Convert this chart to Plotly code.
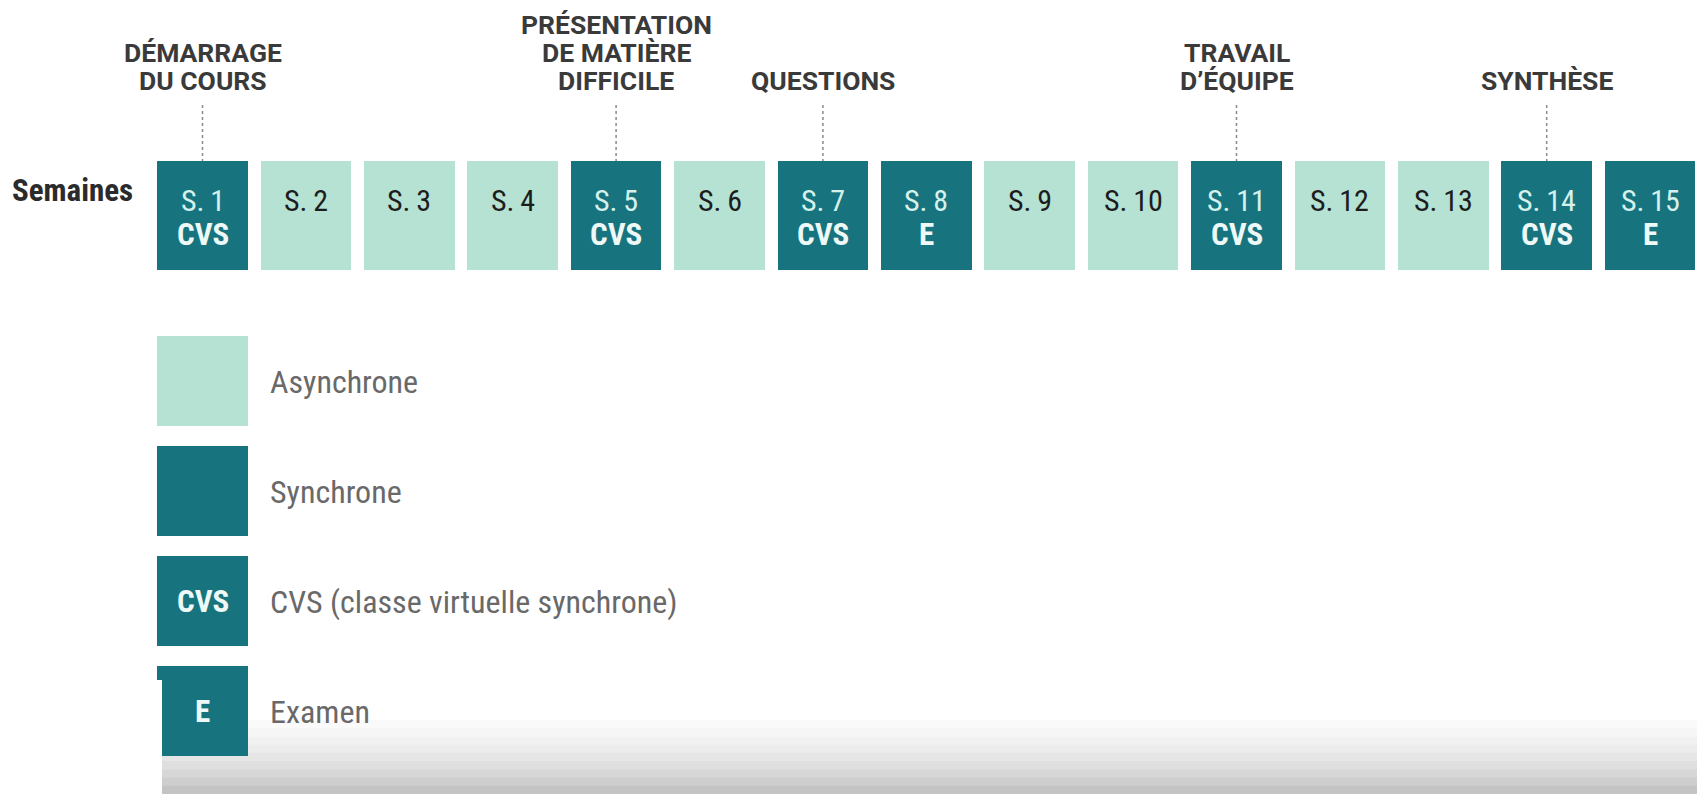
import plotly.graph_objects as go

# ---------------- data ----------------
weeks = list(range(1, 16))
week_labels = [f"S.\u2009{w}" for w in weeks]
week_types = ["CVS", "A", "A", "A", "CVS", "A", "CVS", "E", "A", "A", "CVS", "A", "A", "CVS", "E"]

milestone_weeks = [1, 5, 7, 11, 14]
milestone_labels = [
    ["DÉMARRAGE", "DU COURS"],
    ["PRÉSENTATION", "DE MATIÈRE", "DIFFICILE"],
    ["QUESTIONS"],
    ["TRAVAIL", "D’ÉQUIPE"],
    ["SYNTHÈSE"],
]

legend_keys = ["A", "S", "CVS", "E"]
legend_codes = ["", "", "CVS", "E"]
legend_labels = ["Asynchrone", "Synchrone", "CVS (classe virtuelle synchrone)", "Examen"]
row_title = "Semaines"

# ---------------- style ----------------
DARK = "#17747e"
LIGHT = "#b5e2d3"
colour_of = {"A": LIGHT, "S": DARK, "CVS": DARK, "E": DARK}
COND = "Roboto Condensed, Liberation Sans Narrow, DejaVu Sans Condensed, Roboto, sans-serif"
HEAD = "Roboto, Liberation Sans, sans-serif"

BOX_TOP, BOX_H = 161, 109
LEG_TOPS, LEG_H = [336, 446, 556, 666], 90
BAR_W = 0.875

fig = go.Figure()

fig.add_trace(go.Bar(
    x=weeks, y=[BOX_H] * len(weeks), base=[BOX_TOP] * len(weeks), width=BAR_W,
    marker=dict(color=[colour_of[t] for t in week_types], line=dict(width=0)),
    hoverinfo="skip", showlegend=False,
))
fig.add_trace(go.Bar(
    x=[1] * len(legend_keys), y=[LEG_H] * len(legend_keys), base=LEG_TOPS, width=BAR_W,
    marker=dict(color=[colour_of[k] for k in legend_keys], line=dict(width=0)),
    hoverinfo="skip", showlegend=False,
))

ann = []
# week labels
for w, lab, t in zip(weeks, week_labels, week_types):
    if t == "A":
        ann.append(dict(x=w, y=200, text=lab, font=dict(family=COND, size=30, color="#1d1d1d")))
    else:
        ann.append(dict(x=w, y=200, text=lab, font=dict(family=COND, size=30, color="#d6f1ec")))
        ann.append(dict(x=w, y=234, text=f"<b>{t}</b>", font=dict(family=COND, size=31, color="#eef9f7")))

# milestone headings + dotted leaders
shapes = []
for w, lines in zip(milestone_weeks, milestone_labels):
    n = len(lines)
    for i, line in enumerate(lines):
        y = 80 - 28 * (n - 1 - i)
        ann.append(dict(x=w, y=y, text=f"<b>{line}</b>", font=dict(family=HEAD, size=26.5, color="#3a3a3a")))
    shapes.append(dict(type="line", xref="x", yref="y", x0=w, x1=w, y0=105, y1=BOX_TOP,
                       line=dict(color="#8a8a8a", width=1.5, dash="dot")))

# row title
ann.append(dict(x=135 / 1697, xref="paper", xanchor="right", y=190, text=f"<b>{row_title}</b>",
                font=dict(family=COND, size=31, color="#2b2b2b")))

# legend texts
for top, code, lab in zip(LEG_TOPS, legend_codes, legend_labels):
    cy = top + LEG_H / 2
    if code:
        ann.append(dict(x=1, y=cy, text=f"<b>{code}</b>", font=dict(family=COND, size=31, color="#eef9f7")))
    ann.append(dict(x=268 / 1697, xref="paper", xanchor="left", y=cy + 1, text=lab,
                    font=dict(family=COND, size=32, color="#696969")))

for a in ann:
    a.setdefault("xref", "x")
    a.setdefault("xanchor", "center")
    a.update(yref="y", yanchor="middle", showarrow=False)

# bottom video-overlay gradient (screenshot artefact)
band_cols = ["#fafafa", "#f6f6f6", "#f1f1f1", "#ececec", "#e6e6e6", "#dfdfdf", "#d7d7d7", "#cecece", "#c4c4c4"]
y0 = 720
step = (794 - y0) / len(band_cols)
for i, c in enumerate(band_cols):
    shapes.append(dict(type="rect", xref="paper", yref="y", x0=162 / 1697, x1=1,
                       y0=y0 + i * step, y1=y0 + (i + 1) * step + 0.5,
                       fillcolor=c, line=dict(width=0), layer="below"))
shapes.append(dict(type="rect", xref="paper", yref="y", x0=0, x1=162 / 1697, y0=680, y1=794,
                   fillcolor="white", line=dict(width=0), layer="above"))

pitch = 103.4
x0 = 1 - 202.5 / pitch
fig.update_layout(
    width=1697, height=794, margin=dict(l=0, r=0, t=0, b=0),
    paper_bgcolor="white", plot_bgcolor="white",
    barmode="overlay", bargap=0,
    xaxis=dict(range=[x0, x0 + 1697 / pitch], visible=False, fixedrange=True),
    yaxis=dict(range=[794, 0], visible=False, fixedrange=True),
    annotations=ann, shapes=shapes, showlegend=False,
)

fig.write_html("out.html", config={"displayModeBar": False},
               post_script="document.body.style.margin='0';document.body.style.overflow='hidden';")
